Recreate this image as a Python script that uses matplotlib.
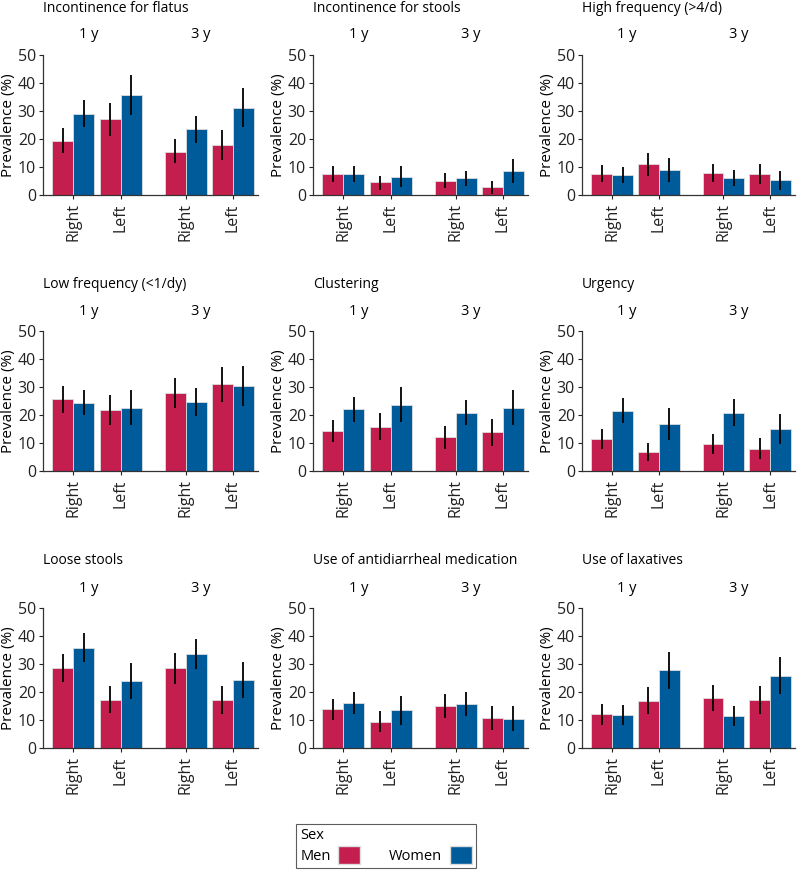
import numpy as np
import matplotlib.pyplot as plt

plt.rcParams['font.family'] = ['Open Sans', 'DejaVu Sans']

titles = ["Incontinence for flatus", "Incontinence for stools", "High frequency (>4/d)",
          "Low frequency (<1/dy)", "Clustering", "Urgency",
          "Loose stools", "Use of antidiarrheal medication", "Use of laxatives"]
groups = ["Right", "Left", "Right", "Left"]
years = ["1 y", "3 y"]

# order within each panel: 1y Right, 1y Left, 3y Right, 3y Left
men = [[19.4, 27.0, 15.5, 17.7], [7.5, 4.5, 5.0, 2.7], [7.6, 11.0, 7.9, 7.5],
       [25.6, 21.9, 27.9, 30.9], [14.2, 15.8, 12.0, 14.0], [11.5, 6.8, 9.6, 8.0],
       [28.6, 17.3, 28.5, 17.0], [13.8, 9.4, 15.0, 10.7], [12.0, 16.9, 17.9, 17.1]]
men_lo = [[15.1, 21.1, 11.3, 12.5], [4.5, 1.8, 2.4, 0.4], [4.6, 6.9, 4.5, 3.8],
          [20.7, 16.5, 22.5, 24.5], [10.3, 11.0, 8.0, 9.1], [8.0, 3.5, 6.0, 4.2],
          [23.6, 12.5, 23.0, 12.1], [9.9, 5.7, 10.7, 6.4], [8.3, 12.1, 13.3, 12.1]]
men_hi = [[23.8, 33.0, 20.0, 23.1], [10.5, 6.9, 7.7, 5.1], [10.6, 15.0, 11.2, 11.2],
          [30.5, 27.3, 33.3, 37.2], [18.1, 20.6, 15.9, 18.7], [15.0, 10.1, 13.2, 11.7],
          [33.7, 22.3, 33.8, 22.3], [17.6, 13.2, 19.4, 14.9], [15.6, 21.9, 22.5, 22.3]]
women = [[28.8, 35.7, 23.5, 31.2], [7.5, 6.5, 6.0, 8.5], [7.1, 8.8, 6.2, 5.2],
         [24.4, 22.6, 24.6, 30.4], [22.0, 23.7, 20.7, 22.6], [21.4, 16.8, 20.8, 14.9],
         [35.7, 23.8, 33.5, 24.4], [16.1, 13.5, 15.7, 10.4], [11.7, 27.7, 11.4, 25.8]]
women_lo = [[24.2, 28.6, 18.5, 24.2], [4.5, 2.7, 3.2, 4.3], [4.4, 4.6, 3.3, 1.8],
            [19.9, 16.4, 19.7, 23.3], [17.5, 17.5, 16.3, 16.4], [17.0, 11.1, 16.2, 9.6],
            [30.6, 17.5, 28.1, 17.9], [12.1, 8.3, 11.5, 6.0], [8.1, 21.1, 7.7, 19.3]]
women_hi = [[33.9, 42.7, 28.3, 38.2], [10.2, 10.4, 8.7, 12.7], [10.0, 13.1, 9.0, 8.7],
            [29.1, 28.8, 29.7, 37.4], [26.6, 30.1, 25.5, 28.9], [26.0, 22.4, 25.6, 20.4],
            [41.0, 30.2, 38.9, 30.8], [20.0, 18.5, 19.9, 14.9], [15.2, 34.3, 15.1, 32.4]]

c_men = '#C41E4E'
c_women = '#005B9B'

fig = plt.figure(figsize=(8, 8.71), dpi=100)
W, H = 800, 871
col_left = [43, 313, 582]
col_width = [215, 215, 213]
row_bottom = [195, 471, 748]
ax_h = 140

pos = np.array([0, 2.25, 5.35, 7.6])
bw = 1.0

for i, title in enumerate(titles):
    r, c = divmod(i, 3)
    ax = fig.add_axes([col_left[c] / W, 1 - row_bottom[r] / H, col_width[c] / W, ax_h / H])
    m = np.array(men[i]); w = np.array(women[i])
    m_err = [m - np.array(men_lo[i]), np.array(men_hi[i]) - m]
    w_err = [w - np.array(women_lo[i]), np.array(women_hi[i]) - w]
    ax.bar(pos - bw / 2, m, bw, color=c_men, edgecolor='#dddddd', linewidth=0.6,
           yerr=m_err, error_kw=dict(ecolor='black', elinewidth=1.3, capsize=0))
    ax.bar(pos + bw / 2, w, bw, color=c_women, edgecolor='#dddddd', linewidth=0.6,
           yerr=w_err, error_kw=dict(ecolor='black', elinewidth=1.3, capsize=0))
    ax.set_xlim(-1.45, 8.8)
    ax.set_ylim(0, 50)
    ax.set_yticks([0, 10, 20, 30, 40, 50])
    ax.set_xticks(pos)
    ax.set_xticklabels(groups, rotation=90, fontsize=11.5)
    ax.tick_params(axis='y', labelsize=11.5, length=3, width=0.8, pad=2, colors='#222222')
    ax.tick_params(axis='x', length=3, width=0.8, pad=3, colors='#222222')
    for s in ['top', 'right']:
        ax.spines[s].set_visible(False)
    for s in ['left', 'bottom']:
        ax.spines[s].set_color('#333333')
        ax.spines[s].set_linewidth(0.9)
    ax.set_ylabel("Prevalence (%)", fontsize=11, labelpad=1)
    ax.text(0.0, 1 + 47 / ax_h, title, transform=ax.transAxes, fontsize=10,
            ha='left', va='center')
    for k, yl in enumerate(years):
        xc = (pos[2 * k] + pos[2 * k + 1]) / 2 - 0.4
        ax.text(xc, 1 + 20 / ax_h, yl, transform=ax.get_xaxis_transform(),
                fontsize=10.5, ha='center', va='center')

h1 = plt.Rectangle((0, 0), 1, 1, facecolor=c_men, edgecolor='#dddddd')
h2 = plt.Rectangle((0, 0), 1, 1, facecolor=c_women, edgecolor='#dddddd')
leg = fig.legend([h1, h2], ["Men", "Women"], title="Sex", ncol=2, markerfirst=False,
                 loc='center', bbox_to_anchor=(386 / W, 1 - 846 / H),
                 fontsize=10.5, title_fontsize=10.5, alignment='left',
                 handlelength=1.5, handleheight=1.5, columnspacing=2.0,
                 handletextpad=0.5, frameon=True, fancybox=False, borderpad=0.3,
                 labelspacing=0.2)
leg.get_frame().set_edgecolor('#333333')
leg.get_frame().set_linewidth(0.8)

fig.savefig('out.png', dpi=100)
